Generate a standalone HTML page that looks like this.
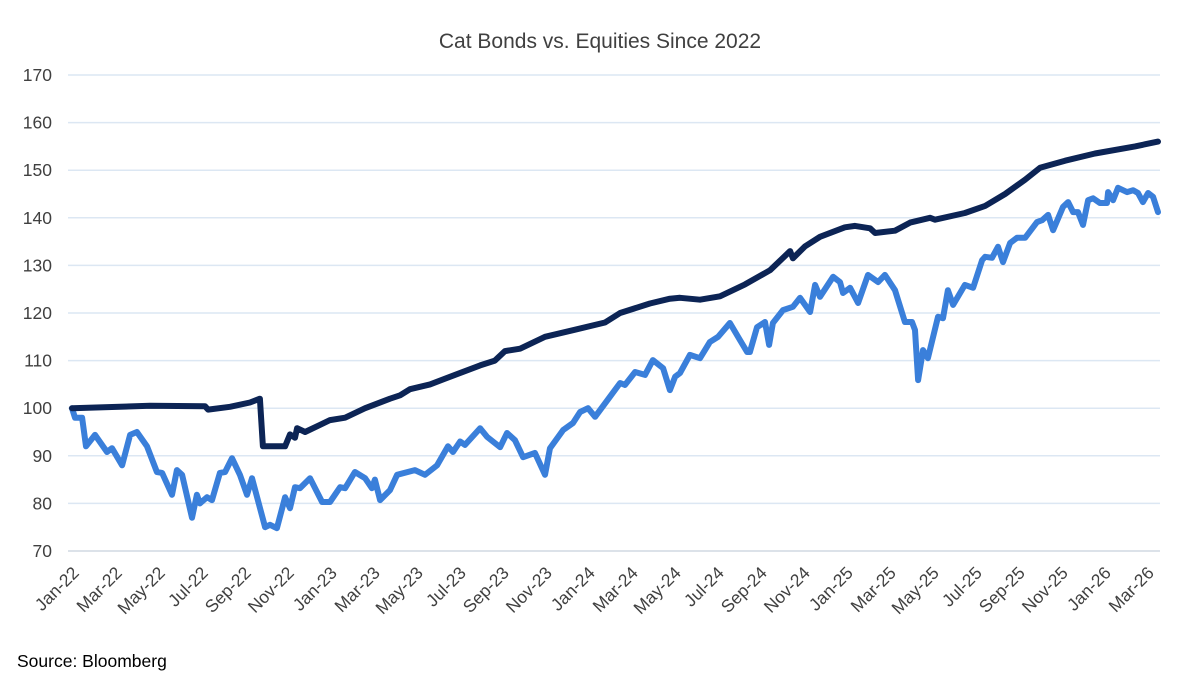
<!DOCTYPE html>
<html><head><meta charset="utf-8"><style>
html,body{margin:0;padding:0;background:#fff;}
svg{display:block;font-family:"Liberation Sans",sans-serif;}
</style></head><body>
<svg id="chart" width="1200" height="681" viewBox="0 0 1200 681">
<text x="600" y="48" text-anchor="middle" font-size="21" fill="#404040">Cat Bonds vs. Equities Since 2022</text>
<g id="grid"></g><g id="yaxis"></g><g id="xaxis"></g><g id="series"></g>
<text x="17" y="667" font-size="17.5" fill="#000">Source: Bloomberg</text>
</svg>
<script>
const yTicks=[70,80,90,100,110,120,130,140,150,160,170];
const xLabels=["Jan-22","Mar-22","May-22","Jul-22","Sep-22","Nov-22","Jan-23","Mar-23","May-23","Jul-23","Sep-23","Nov-23","Jan-24","Mar-24","May-24","Jul-24","Sep-24","Nov-24","Jan-25","Mar-25","May-25","Jul-25","Sep-25","Nov-25","Jan-26","Mar-26"];
const catT=[0,3.63,6.19,6.33,7.35,8.28,8.74,8.88,9.91,10.14,10.37,10.47,10.84,11.53,12,12.7,13.63,14.79,15.26,15.72,16.65,17.81,18.98,19.67,20.14,20.84,22,23.4,24.79,25.49,26.88,27.81,28.28,29.21,30.14,31.3,32.47,33.4,33.53,34.09,34.79,35.95,36.42,37.12,37.35,38.28,38.98,39.91,40.14,41.53,42.47,43.4,44.33,45.02,46.19,47.58,49.44,50.51];
const catV=[100,100.5,100.4,99.7,100.3,101.2,102,92,92,94.5,93.8,95.8,95,96.5,97.5,98,100,102,102.7,104,105,107,109,110,112,112.5,115,116.5,118,120,122,123,123.2,122.8,123.5,126,129,133,131.5,134,136,138,138.3,137.8,136.8,137.3,139,140,139.6,141,142.5,145,148,150.5,152,153.5,155,156];
const eqT=[0,.14,.47,.65,1.07,1.63,1.86,2.33,2.7,3.02,3.49,3.95,4.19,4.65,4.88,5.12,5.58,5.81,5.95,6.28,6.51,6.88,7.12,7.44,7.81,8.14,8.37,8.98,9.21,9.53,9.91,10.14,10.37,10.6,11.07,11.63,12,12.47,12.7,13.16,13.63,13.95,14.09,14.33,14.79,15.12,15.95,16.42,16.98,17.49,17.72,18.05,18.28,18.98,19.3,19.91,20.23,20.6,20.98,21.53,22,22.23,22.84,23.3,23.63,24,24.33,25.02,25.49,25.72,26.19,26.65,27.02,27.49,27.81,28.05,28.28,28.74,29.21,29.67,30.05,30.6,31.07,31.4,31.53,31.86,32.23,32.42,32.6,33.07,33.53,33.86,34.33,34.56,34.79,35.4,35.72,35.86,36.19,36.56,37.02,37.49,37.81,38.28,38.74,39.07,39.21,39.35,39.58,39.81,40.28,40.51,40.74,40.98,41.53,41.91,42.33,42.47,42.79,43.07,43.3,43.63,43.95,44.33,44.88,45.12,45.4,45.63,46.09,46.33,46.56,46.79,47.02,47.26,47.49,47.81,48.14,48.19,48.42,48.65,49.07,49.35,49.58,49.81,50.05,50.28,50.51];
const eqV=[100,98,98,92,94.4,90.8,91.6,88,94.4,95,92,86.6,86.4,81.8,87,86,77,81.8,80,81.3,80.7,86.4,86.6,89.5,86,81.8,85.3,75,75.5,74.8,81.3,79,83.4,83.2,85.3,80.3,80.3,83.4,83.2,86.6,85.3,83.2,85,80.7,82.8,86,87,86,88,92,90.8,93,92.3,95.8,94,91.8,94.8,93.3,89.7,90.6,86,91.6,95.4,96.9,99.2,100,98.2,102.4,105.3,104.9,107.6,107,110.1,108.4,103.8,106.6,107.4,111.2,110.5,113.9,115,117.9,114.3,111.8,111.8,117,118.1,113.3,117.9,120.6,121.3,123.2,120.2,125.9,123.4,127.6,126.5,124.2,125.3,122.1,128,126.5,128,124.8,118.1,118.1,116.4,105.9,112.2,110.5,119.2,118.9,124.8,121.7,125.9,125.3,131.1,131.8,131.6,133.9,130.7,134.7,135.8,135.8,139.1,139.5,140.6,137.4,142.3,143.3,141.2,141.2,138.5,143.7,144.1,143.1,143.1,145.4,143.7,146.3,145.4,145.8,145.2,143.3,145.2,144.4,141.2];

const NS="http://www.w3.org/2000/svg";
const X0=72,X1=1158,T0=0,T1=50.51,Y0=551,Y1=75,V0=70,V1=170;
function xs(t){return X0+(t-T0)/(T1-T0)*(X1-X0);}
function ys(v){return Y0-(v-V0)/(V1-V0)*(Y0-Y1);}
function mk(tag,attrs,parent){const e=document.createElementNS(NS,tag);for(const k in attrs)e.setAttribute(k,attrs[k]);parent.appendChild(e);return e;}
const grid=document.getElementById('grid'),ya=document.getElementById('yaxis'),xa=document.getElementById('xaxis'),se=document.getElementById('series');
yTicks.forEach(v=>{
  const l=mk('line',{x1:68,x2:1160,y1:ys(v),y2:ys(v),stroke:v===70?'#d0d8e2':'#dce7f3','stroke-width':1.5},grid);
  
  
  const t=mk('text',{x:52,y:ys(v)+6,'text-anchor':'end','font-size':17.5,fill:'#404040'},ya);
  
  
  t.textContent=v;
});
xLabels.forEach((s,i)=>{
  const x=xs(i*2)+8,y=574;
  const t=mk('text',{x:x,y:y,'text-anchor':'end','font-size':17.5,fill:'#404040',transform:`rotate(-45 ${x} ${y})`},xa);
  
  
  t.textContent=s;
});
function path(T,V){return T.map((t,i)=>(i?'L':'M')+xs(t).toFixed(1)+' '+ys(V[i]).toFixed(1)).join(' ');}
const p1=mk('path',{d:path(eqT,eqV),fill:'none',stroke:'#3a7fda','stroke-width':6,'stroke-linejoin':'round','stroke-linecap':'round'},se);


const p2=mk('path',{d:path(catT,catV),fill:'none',stroke:'#0c2455','stroke-width':6,'stroke-linejoin':'round','stroke-linecap':'round'},se);


</script>
</body></html>
